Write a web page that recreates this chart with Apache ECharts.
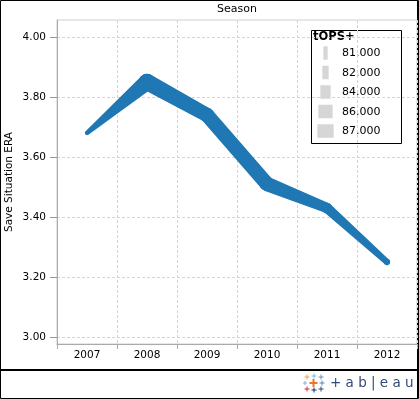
<!DOCTYPE html>
<html>
<head>
<meta charset="utf-8">
<style>
  html, body { margin: 0; padding: 0; background: #fff; }
  #chart { width: 419px; height: 399px; }
</style>
<script src="https://cdn.jsdelivr.net/npm/echarts/dist/echarts.min.js"></script>
</head>
<body>
<div id="chart"></div>
<script>
// ---- data ----
const years = ['2007', '2008', '2009', '2010', '2011', '2012'];
const saveSitERA = [3.68, 3.85, 3.74, 3.51, 3.43, 3.25];
const tOPSplus = [81, 87, 86, 86, 84, 82];
const legendValues = [81, 82, 84, 86, 87];
const yTicks = [3.00, 3.20, 3.40, 3.60, 3.80, 4.00];
const chartTitle = 'Season';
const yTitle = 'Save Situation ERA';
const legendTitle = 'tOPS+';

// ---- styling ----
const FONT = 'DejaVu Sans';
const LINE_COLOR = '#1f77b4';
const TEXT = '#000';
function sizeToWidth(v) { return 4.3 + (v - 81) * 2; }

const segData = [];
for (let i = 0; i < years.length - 1; i++) {
  segData.push([i, saveSitERA[i], i + 1, saveSitERA[i + 1], tOPSplus[i], tOPSplus[i + 1]]);
}

function renderSeg(params, api) {
  const p0 = api.coord([api.value(0), api.value(1)]);
  const p1 = api.coord([api.value(2), api.value(3)]);
  const r0 = sizeToWidth(api.value(4)) / 2;
  const r1 = sizeToWidth(api.value(5)) / 2;
  const dx = p1[0] - p0[0], dy = p1[1] - p0[1];
  const len = Math.hypot(dx, dy) || 1;
  const nx = -dy / len, ny = dx / len;
  const st = { fill: LINE_COLOR };
  return {
    type: 'group',
    children: [
      { type: 'polygon', shape: { points: [
        [p0[0] + nx * r0, p0[1] + ny * r0],
        [p1[0] + nx * r1, p1[1] + ny * r1],
        [p1[0] - nx * r1, p1[1] - ny * r1],
        [p0[0] - nx * r0, p0[1] - ny * r0]
      ] }, style: st },
      { type: 'circle', shape: { cx: p0[0], cy: p0[1], r: r0 }, style: st },
      { type: 'circle', shape: { cx: p1[0], cy: p1[1], r: r1 }, style: st }
    ]
  };
}

// legend graphics
const legendChildren = [
  { type: 'rect', shape: { x: 311.5, y: 30.5, width: 90, height: 113 },
    style: { fill: '#fff', stroke: '#000', lineWidth: 1 } },
  { type: 'text', x: 313, y: 37, style: { text: legendTitle, font: 'bold 11.5px "' + FONT + '"',
    fill: TEXT, textAlign: 'left', textVerticalAlign: 'middle' } }
];
legendValues.forEach(function (v, i) {
  const cy = 53 + i * 19.5;
  const w = sizeToWidth(v);
  legendChildren.push({ type: 'rect', shape: { x: 325.5 - w / 2, y: cy - 6.75, width: w, height: 13.5 },
    style: { fill: '#d6d6d6' } });
  legendChildren.push({ type: 'text', x: 342, y: cy + 0.5, style: { text: v.toFixed(3),
    font: '11px "' + FONT + '"', fill: TEXT, textAlign: 'left', textVerticalAlign: 'middle' } });
});

// tableau logo crosses
function cross(cx, cy, s, t, color) {
  return { type: 'group', children: [
    { type: 'rect', shape: { x: cx - s / 2, y: cy - t / 2, width: s, height: t }, style: { fill: color } },
    { type: 'rect', shape: { x: cx - t / 2, y: cy - s / 2, width: t, height: s }, style: { fill: color } }
  ] };
}
const logo = [
  cross(307, 377, 5, 1, '#f0a04a'),
  cross(314, 376, 5, 1, '#8ab4d4'),
  cross(321, 377, 5, 1, '#6f8fb5'),
  cross(305, 383, 4, 1, '#8ab4d4'),
  cross(313.5, 383, 8, 2, '#e8762d'),
  cross(322, 383, 5, 1, '#5a86b8'),
  cross(307, 389, 5, 1, '#c72f45'),
  cross(314, 390, 5, 1.2, '#2a4a7f'),
  cross(321, 389, 5, 1, '#2a4a7f'),
  { type: 'text', x: 330, y: 383, style: { text: '+ a b | e a u', font: '13.5px "' + FONT + '"',
    fill: '#2f4a78', textAlign: 'left', textVerticalAlign: 'middle' } }
];

const option = {
  animation: false,
  backgroundColor: '#fff',
  textStyle: { fontFamily: FONT },
  grid: [
    { left: 57, right: 2, top: 37, bottom: 62, outerBoundsMode: 'none', containLabel: false },
    { left: 57, right: 2, top: 20, bottom: 55, outerBoundsMode: 'none', containLabel: false,
      show: true, borderColor: '#cfcfcf', borderWidth: 1, backgroundColor: 'transparent' }
  ],
  xAxis: [
    { type: 'category', gridIndex: 0, data: years, show: false },
    { type: 'category', gridIndex: 1, data: years,
      axisLine: { show: true, lineStyle: { color: '#aaa' } },
      axisTick: { show: true, length: 5, lineStyle: { color: '#aaa' } },
      axisLabel: { color: TEXT, fontSize: 10.5, fontFamily: FONT, margin: 6 },
      splitLine: { show: true, lineStyle: { color: '#d4d4d4', type: [3, 2] } } }
  ],
  yAxis: [
    { type: 'value', gridIndex: 0, min: yTicks[0], max: yTicks[yTicks.length - 1],
      interval: Math.round((yTicks[1] - yTicks[0]) * 100) / 100,
      axisLine: { show: false },
      axisTick: { show: true, length: 7, lineStyle: { color: '#999' } },
      axisLabel: { color: TEXT, fontSize: 10.5, fontFamily: FONT, margin: 11,
        formatter: function (v) { return v.toFixed(2); } },
      splitLine: { show: true, lineStyle: { color: '#d4d4d4', type: [3, 2] } } },
    { type: 'value', gridIndex: 1, min: 0, max: 1,
      name: yTitle, nameLocation: 'middle', nameGap: 42,
      nameTextStyle: { color: TEXT, fontSize: 10.5, fontFamily: FONT },
      axisLine: { show: true, lineStyle: { color: '#aaa' } },
      axisTick: { show: false }, axisLabel: { show: false }, splitLine: { show: false } }
  ],
  series: [
    { type: 'custom', xAxisIndex: 0, yAxisIndex: 0, data: segData,
      encode: { x: [0, 2], y: [1, 3] }, renderItem: renderSeg, z: 5, silent: true }
  ],
  graphic: [
    { type: 'text', x: 237, y: 9, style: { text: chartTitle, font: '11px "' + FONT + '"', fill: TEXT,
      textAlign: 'center', textVerticalAlign: 'middle' } },
    { type: 'group', z: 100, children: legendChildren },
    { type: 'rect', shape: { x: 0, y: 369, width: 419, height: 2 }, style: { fill: '#000' } },
    { type: 'rect', shape: { x: 0.5, y: 0.5, width: 418, height: 398 },
      style: { fill: 'transparent', stroke: '#000', lineWidth: 1 } },
    { type: 'line', shape: { x1: 417.5, y1: 0, x2: 417.5, y2: 399 }, style: { stroke: '#000', lineWidth: 1 } },
    { type: 'group', children: logo }
  ]
};

const chart = echarts.init(document.getElementById('chart'), null, { renderer: 'canvas' });
chart.setOption(option);
</script>
</body>
</html>
